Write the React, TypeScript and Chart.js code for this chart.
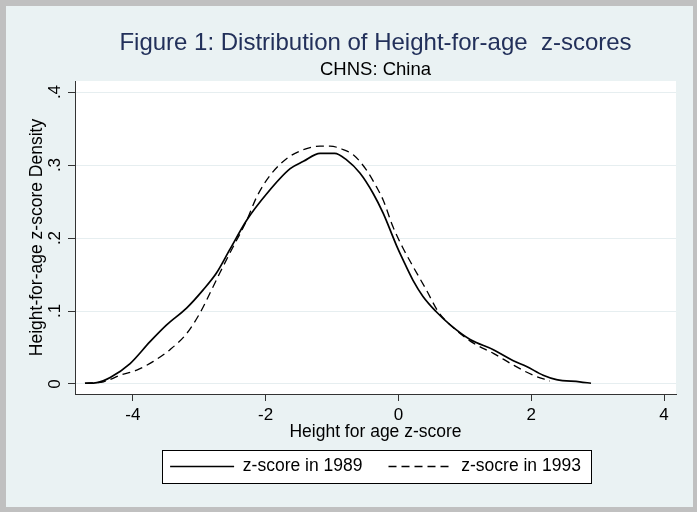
import React, { useEffect, useRef } from 'react';
import { Chart, registerables } from 'chart.js';

Chart.register(...registerables);

const titleText = 'Figure 1: Distribution of Height-for-age  z-scores';
const subtitleText = 'CHNS: China';
const xAxisTitle = 'Height for age z-score';
const yAxisTitle = 'Height-for-age z-score Density';
const seriesLabels = ['z-score in 1989', 'z-socre in 1993'];

const xTickValues = [-4, -2, 0, 2, 4];
const xTickLabels = ['-4', '-2', '0', '2', '4'];
const yTickValues = [0, 0.1, 0.2, 0.3, 0.4];
const yTickLabels = ['0', '.1', '.2', '.3', '.4'];

const x1989 = [-4.72, -4.54, -4.34, -4.04, -3.74, -3.49, -3.19, -2.94, -2.74, -2.54, -2.28, -1.98, -1.63, -1.43, -1.18, -0.96, -0.78, -0.58, -0.38, -0.23, -0.03, 0.07, 0.22, 0.37, 0.57, 0.78, 1.08, 1.43, 1.73, 1.93, 2.18, 2.38, 2.73, 2.9];
const y1989 = [0.001, 0.002, 0.009, 0.028, 0.058, 0.081, 0.104, 0.129, 0.152, 0.184, 0.225, 0.261, 0.295, 0.305, 0.316, 0.316, 0.307, 0.289, 0.261, 0.234, 0.19, 0.17, 0.142, 0.12, 0.099, 0.081, 0.061, 0.047, 0.032, 0.024, 0.012, 0.006, 0.003, 0.001];

const x1993 = [-4.72, -4.44, -4.19, -3.94, -3.69, -3.44, -3.19, -2.99, -2.84, -2.69, -2.54, -2.28, -2.13, -1.93, -1.68, -1.43, -1.18, -1.03, -0.83, -0.68, -0.48, -0.33, -0.23, -0.08, 0.07, 0.22, 0.42, 0.6, 0.78, 1.13, 1.43, 1.73, 2.03, 2.28];
const y1993 = [0.001, 0.003, 0.012, 0.019, 0.031, 0.047, 0.069, 0.097, 0.124, 0.152, 0.179, 0.225, 0.257, 0.286, 0.309, 0.321, 0.326, 0.326, 0.321, 0.314, 0.293, 0.27, 0.252, 0.215, 0.186, 0.161, 0.129, 0.099, 0.081, 0.056, 0.042, 0.026, 0.012, 0.004];

const FONT = "'Liberation Sans', Arial, sans-serif";
const LEGEND_FONT = 17.5;

const framePlugin = {
  id: 'stataFrame',
  beforeDraw(chart: any) {
    const { ctx, chartArea, width, height } = chart;
    ctx.save();
    ctx.fillStyle = '#c0c0c0';
    ctx.fillRect(0, 0, width, height);
    ctx.fillStyle = '#eaf2f3';
    ctx.fillRect(6, 6, width - 10, height - 11);
    ctx.fillStyle = '#ffffff';
    ctx.fillRect(chartArea.left, chartArea.top, chartArea.right - chartArea.left, chartArea.bottom - chartArea.top);
    const lg = chart.legend;
    if (lg && lg.lineWidths && lg.lineWidths.length) {
      const pad = lg.options.labels.padding;
      const itemsW = lg.lineWidths[0] - pad;
      const cx = (lg.left + lg.right) / 2;
      const cy = lg.top + pad + LEGEND_FONT / 2;
      const l = Math.round(cx - itemsW / 2 - 8.5) + 0.5;
      const r = Math.round(cx + itemsW / 2 + 10) + 0.5;
      const t = Math.round(cy - 16.5) + 0.5;
      const b = Math.round(cy + 16.5) + 0.5;
      ctx.fillStyle = '#ffffff';
      ctx.fillRect(l, t, r - l, b - t);
      ctx.strokeStyle = '#000000';
      ctx.lineWidth = 1;
      ctx.strokeRect(l, t, r - l, b - t);
    }
    ctx.restore();
  },
};

export default function App() {
  const canvasRef = useRef<HTMLCanvasElement | null>(null);

  useEffect(() => {
    if (!canvasRef.current) return;
    const d1989 = x1989.map((x, i) => ({ x, y: y1989[i] }));
    const d1993 = x1993.map((x, i) => ({ x, y: y1993[i] }));
    const chart = new Chart(canvasRef.current, {
      type: 'line',
      data: {
        datasets: [
          {
            label: seriesLabels[0],
            data: d1989,
            borderColor: '#000000',
            borderWidth: 1.7,
            pointRadius: 0,
            cubicInterpolationMode: 'monotone',
            fill: false,
          },
          {
            label: seriesLabels[1],
            data: d1993,
            borderColor: '#000000',
            borderWidth: 1.3,
            borderDash: [8, 5],
            pointRadius: 0,
            cubicInterpolationMode: 'monotone',
            fill: false,
          },
        ],
      },
      options: {
        responsive: false,
        animation: false,
        events: [],
        layout: { padding: { top: 0, left: 0, right: 21, bottom: 26.75 } },
        plugins: {
          title: {
            display: true,
            text: titleText,
            fullSize: false,
            color: '#22305a',
            font: { family: FONT, size: 24, weight: 'normal', lineHeight: 1 },
            padding: { top: 31, bottom: 0 },
          },
          subtitle: {
            display: true,
            text: subtitleText,
            fullSize: false,
            color: '#000000',
            font: { family: FONT, size: 18.5, weight: 'normal', lineHeight: 1 },
            padding: { top: 5.25, bottom: 2.25 },
          },
          legend: {
            display: true,
            position: 'bottom',
            fullSize: false,
            labels: {
              color: '#000000',
              font: { family: FONT, size: LEGEND_FONT, lineHeight: 1 },
              usePointStyle: true,
              pointStyleWidth: 64,
              padding: 26,
              generateLabels: (c: any) =>
                c.data.datasets.map((ds: any, i: number) => ({
                  text: ds.label,
                  fillStyle: 'rgba(0,0,0,0)',
                  strokeStyle: ds.borderColor,
                  lineWidth: ds.borderWidth,
                  lineDash: ds.borderDash || [],
                  pointStyle: 'line',
                  hidden: false,
                  datasetIndex: i,
                  fontColor: '#000000',
                })),
            },
          },
          tooltip: { enabled: false },
        },
        scales: {
          x: {
            type: 'linear',
            min: -4.87,
            max: 4.18,
            afterBuildTicks: (s: any) => {
              s.ticks = xTickValues.map((v) => ({ value: v }));
            },
            afterFit: (s: any) => {
              s.height = 37.75;
            },
            ticks: {
              color: '#000000',
              font: { family: FONT, size: 17, lineHeight: 1.2 },
              padding: 4.5,
              maxRotation: 0,
              autoSkip: false,
              callback: (_v: any, i: number) => xTickLabels[i],
            },
            grid: {
              display: true,
              drawOnChartArea: false,
              drawTicks: true,
              tickLength: 7,
              color: '#333333',
              tickColor: '#333333',
            },
            border: { display: true, color: '#333333', width: 1 },
            title: {
              display: true,
              text: xAxisTitle,
              color: '#000000',
              font: { family: FONT, size: 17.5, lineHeight: 1 },
              padding: { top: 0, bottom: -8.75 },
            },
          },
          y: {
            type: 'linear',
            min: -0.0137,
            max: 0.4151,
            afterBuildTicks: (s: any) => {
              s.ticks = yTickValues.map((v) => ({ value: v }));
            },
            afterFit: (s: any) => {
              s.width = 75;
            },
            ticks: {
              color: '#000000',
              font: { family: FONT, size: 17, lineHeight: 1.2 },
              padding: 5.9,
              minRotation: 90,
              maxRotation: 90,
              crossAlign: 'center',
              autoSkip: false,
              callback: (_v: any, i: number) => yTickLabels[i],
            },
            grid: {
              display: true,
              drawOnChartArea: true,
              drawTicks: true,
              tickLength: 7,
              color: '#e6eef0',
              tickColor: '#333333',
              lineWidth: 1,
            },
            border: { display: true, color: '#333333', width: 1 },
            title: {
              display: true,
              text: yAxisTitle,
              color: '#000000',
              font: { family: FONT, size: 17.5, lineHeight: 1 },
              padding: { top: 28, bottom: 0 },
            },
          },
        },
      } as any,
      plugins: [framePlugin],
    } as any);
    return () => chart.destroy();
  }, []);

  return (
    <div style={{ position: 'fixed', left: 0, top: 0, width: 697, height: 512 }}>
      <canvas ref={canvasRef} width={697} height={512} style={{ display: 'block' }} />
    </div>
  );
}
